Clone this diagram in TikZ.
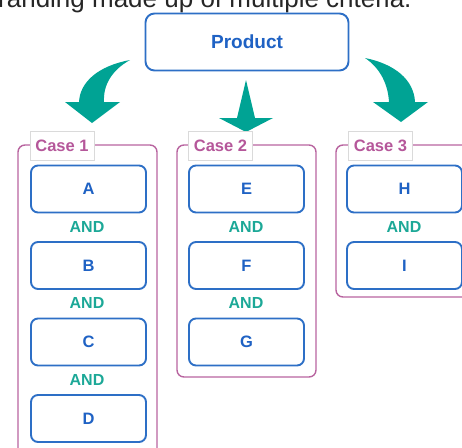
\documentclass[tikz,border=0pt]{standalone}
\usepackage{fontspec}
\setmainfont{Liberation Sans}
\definecolor{boxblue}{HTML}{2D6FC6}
\definecolor{textblue}{HTML}{1F62C4}
\definecolor{andteal}{HTML}{1CA897}
\definecolor{arrowteal}{HTML}{00A394}
\definecolor{casepink}{HTML}{B8649F}
\definecolor{casetext}{HTML}{B5579A}
\definecolor{labelgray}{HTML}{DADADA}
\tikzset{
  item/.style={draw=boxblue, line width=1.9pt, rounded corners=7pt, fill=white,
    minimum width=115pt, minimum height=47pt, inner sep=0pt,
    text=textblue, font=\fontsize{16.5}{19}\selectfont\bfseries},
  prodbox/.style={item, minimum width=203pt, minimum height=57pt, rounded corners=9pt,
    font=\fontsize{19}{22}\selectfont\bfseries},
  andlabel/.style={text=andteal, font=\fontsize{16}{19}\selectfont\bfseries, inner sep=0pt},
  caseframe/.style={draw=casepink, line width=1.4pt, rounded corners=7pt},
  caselabel/.style={draw=labelgray, line width=0.6pt, fill=white, text=casetext,
    minimum width=64pt, minimum height=29pt, inner sep=0pt,
    font=\fontsize{16.5}{19}\selectfont\bfseries},
  bigarrow/.style={fill=arrowteal, draw=none}
}
\begin{document}
\begin{tikzpicture}[x=1pt, y=-1pt]
  \useasboundingbox (0,0) rectangle (462,447);
  \clip (0,0) rectangle (462,447);

  % heading line, partly cut off at the top
  \node[anchor=base west, inner sep=0pt, text=black!85, font=\fontsize{26}{30}\selectfont]
    (heading) at (-2,8) {randing made up of multiple criteria.};

  % product box
  \node[prodbox] (product) at (247,42) {Product};

  % three arrows
  \path[bigarrow] (130,60) .. controls (98,66) and (80,82) .. (79,102)
    -- (65,102) -- (92,123) -- (120,102) -- (104,102)
    .. controls (103,85) and (112,70) .. (130,60) -- cycle;
  \path[bigarrow] (246,80) -- (255,118) -- (273,118) -- (246,132)
    -- (219,118) -- (237,118) -- cycle;
  \path[bigarrow] (365,58) .. controls (395,64) and (414,80) .. (415,102)
    -- (428,102) -- (401,122) -- (373,102) -- (389,102)
    .. controls (388,84) and (380,68) .. (365,58) -- cycle;

  % case frames
  \draw[caseframe] (18,145) rectangle (157,475);
  \draw[caseframe] (177,145) rectangle (316,377);
  \draw[caseframe] (336,145) rectangle (490,297);

  \node[caselabel] (case1) at (62,145.5) {Case 1};
  \node[caselabel] (case2) at (220.5,145.5) {Case 2};
  \node[caselabel] (case3) at (380.5,145.5) {Case 3};

  % case 1
  \node[item] (A) at (88.5,189) {A};
  \node[andlabel] (and1) at (87,227) {AND};
  \node[item] (B) at (88.5,265.5) {B};
  \node[andlabel] (and2) at (87,303) {AND};
  \node[item] (C) at (88.5,342) {C};
  \node[andlabel] (and3) at (87,380) {AND};
  \node[item] (D) at (88.5,418.5) {D};

  % case 2
  \node[item] (E) at (246.5,189) {E};
  \node[andlabel] (and4) at (246,227) {AND};
  \node[item] (F) at (246.5,265.5) {F};
  \node[andlabel] (and5) at (246,303) {AND};
  \node[item] (G) at (246.5,342) {G};

  % case 3
  \node[item] (H) at (404.5,189) {H};
  \node[andlabel] (and6) at (404,227) {AND};
  \node[item] (I) at (404.5,265.5) {I};
\end{tikzpicture}
\end{document}
